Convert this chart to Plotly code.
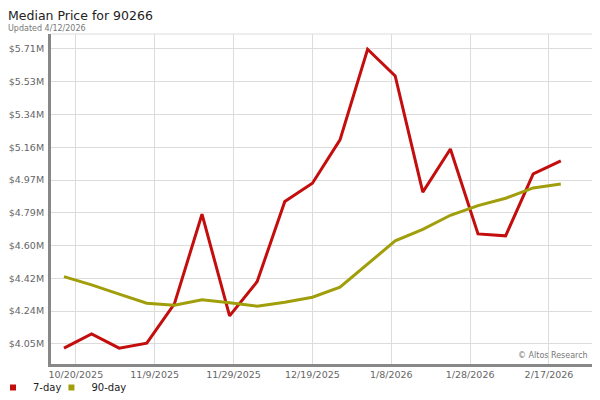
import plotly.graph_objects as go
import pandas as pd

dates = pd.date_range("2025-10-17", periods=19, freq="7D")
price_7day = [4.026, 4.106, 4.026, 4.054, 4.275, 4.780, 4.208, 4.401, 4.851, 4.954,
              5.198, 5.708, 5.558, 4.904, 5.147, 4.669, 4.658, 5.007, 5.080]
price_90day = [4.429, 4.382, 4.330, 4.279, 4.268, 4.298, 4.282, 4.262, 4.285, 4.313,
               4.369, 4.499, 4.630, 4.695, 4.774, 4.828, 4.870, 4.928, 4.950]
y_tickvals = [4.05, 4.2344, 4.4189, 4.6033, 4.7878, 4.9722, 5.1567, 5.3411, 5.5256, 5.71]
y_ticktext = ["$4.05M", "$4.24M", "$4.42M", "$4.60M", "$4.79M", "$4.97M",
              "$5.16M", "$5.34M", "$5.53M", "$5.71M"]
x_tickvals = pd.date_range("2025-10-20", periods=7, freq="20D")
x_ticktext = ["10/20/2025", "11/9/2025", "11/29/2025", "12/19/2025",
              "1/8/2026", "1/28/2026", "2/17/2026"]

RED = "#c40d0d"
OLIVE = "#a09e0a"
FONT = "DejaVu Sans"

# the page body has an 8px margin, so the figure is 592x392 placed at (8, 8)
W, H = 592, 392

fig = go.Figure()
fig.add_trace(go.Scatter(x=dates, y=price_7day, mode="lines", name="7-day",
                         line=dict(color=RED, width=3), showlegend=False,
                         hoverinfo="x+y"))
fig.add_trace(go.Scatter(x=dates, y=price_90day, mode="lines", name="90-day",
                         line=dict(color=OLIVE, width=3), showlegend=False,
                         hoverinfo="x+y"))
# legend entries with square swatches
fig.add_trace(go.Scatter(x=[None], y=[None], mode="markers", name="7-day",
                         marker=dict(symbol="square", size=6, color=RED)))
fig.add_trace(go.Scatter(x=[None], y=[None], mode="markers", name="90-day",
                         marker=dict(symbol="square", size=6, color=OLIVE)))

fig.update_layout(
    width=W, height=H,
    margin=dict(l=43, r=6, t=26, b=36, autoexpand=False),
    paper_bgcolor="white", plot_bgcolor="white",
    font=dict(family=FONT, size=10, color="#666"),
    title=dict(text="Median Price for 90266", x=0, xanchor="left",
               y=1 - 7.5/H, yanchor="middle", pad=dict(l=0, t=0, b=0, r=0),
               font=dict(family=FONT, size=12.5, color="#222")),
    showlegend=True,
    legend=dict(orientation="h", xref="container", yref="container",
                x=0, xanchor="left", y=(H - 365)/H, yanchor="top",
                indentation=-15,
                font=dict(family=FONT, size=10, color="#222"),
                itemwidth=30, tracegroupgap=0, bgcolor="rgba(0,0,0,0)"),
    xaxis=dict(type="date", range=["2025-10-13 17:00", "2026-02-28 10:00"],
               tickvals=x_tickvals, ticktext=x_ticktext,
               showgrid=True, gridcolor="#dcdcdc", gridwidth=1,
               showline=True, linecolor="#888", linewidth=3,
               ticks="", zeroline=False, automargin=False,
               tickfont=dict(family=FONT, size=9.5, color="#666")),
    yaxis=dict(range=[3.937, 5.794], tickvals=y_tickvals, ticktext=y_ticktext,
               showgrid=True, gridcolor="#dcdcdc", gridwidth=1,
               showline=True, linecolor="#888", linewidth=3,
               ticks="", zeroline=False, ticklabelstandoff=2, automargin=False,
               tickfont=dict(family=FONT, size=9.5, color="#666")),
    shapes=[
        dict(type="line", xref="paper", yref="paper", x0=0, x1=1, y0=1, y1=1,
             line=dict(color="#dcdcdc", width=1), layer="below"),
        dict(type="line", xref="paper", yref="paper", x0=1, x1=1, y0=0, y1=1,
             line=dict(color="#dcdcdc", width=1), layer="below"),
    ],
    annotations=[
        dict(text="Updated 4/12/2026", xref="paper", yref="paper",
             x=-45/543, y=1 + 6/330, xanchor="left", yanchor="middle",
             showarrow=False, font=dict(family=FONT, size=8, color="#777")),
        dict(text="© Altos Research", xref="paper", yref="paper",
             x=1 - 4/543, y=2/330, xanchor="right", yanchor="bottom",
             showarrow=False, font=dict(family=FONT, size=8, color="#777")),
    ],
)

fig.write_html("out.html")
